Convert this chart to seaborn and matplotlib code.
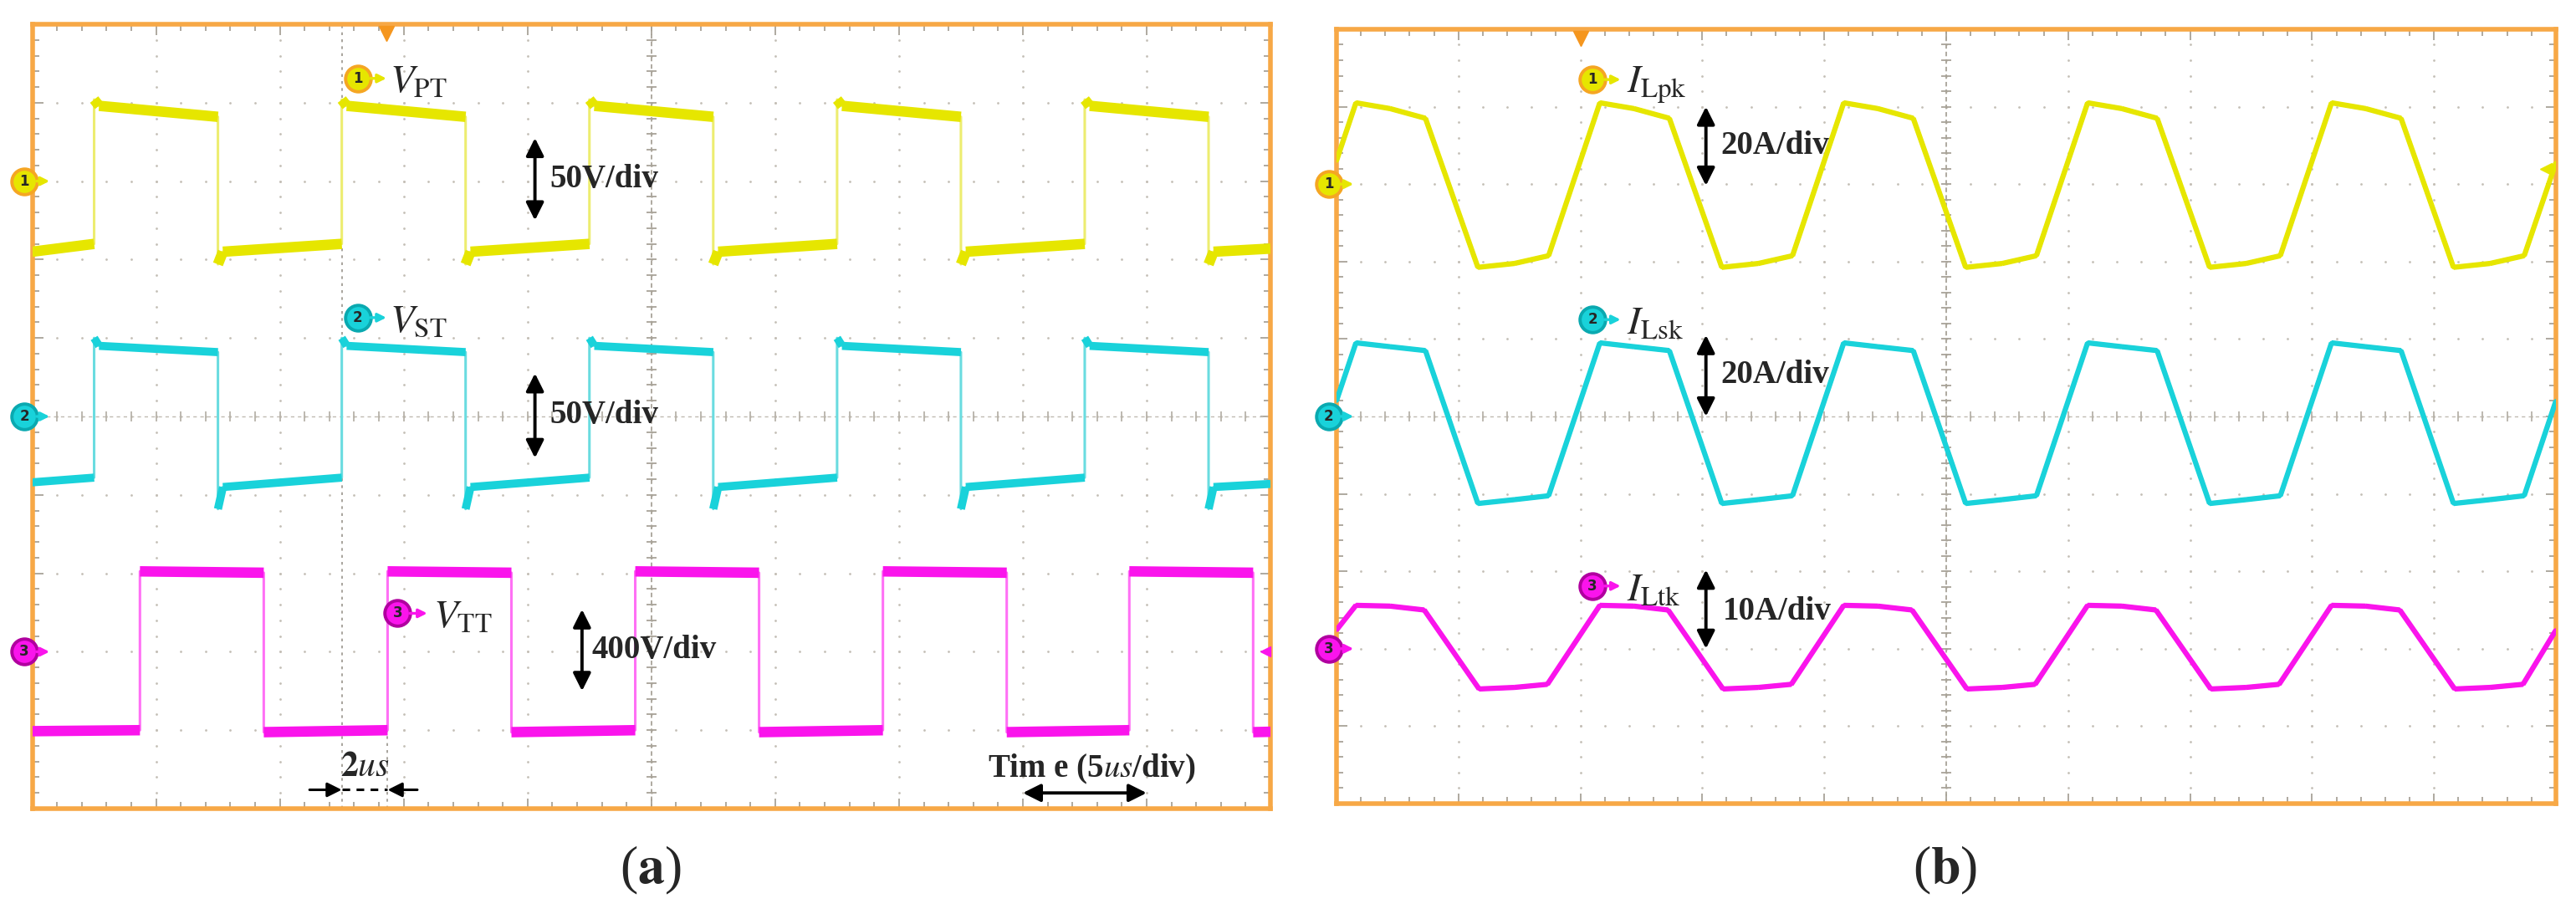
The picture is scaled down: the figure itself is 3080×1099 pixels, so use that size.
import numpy as np
import pandas as pd
import matplotlib
matplotlib.use('Agg')
import matplotlib.pyplot as plt
import seaborn as sns

# ---- waveforms read off the two scope screens (time in us) ----
# (a) transformer voltages
vpt_t = [0, 2.5, 2.5, 2.7, 7.5, 7.5, 7.7, 12.5, 12.5, 12.7, 17.5, 17.5, 17.7, 22.5, 22.5, 22.7,
         27.5, 27.5, 27.7, 32.5, 32.5, 32.7, 37.5, 37.5, 37.7, 42.5, 42.5, 42.7, 47.5, 47.5, 47.7, 50]
vpt_v = [-45, -40, 52, 48, 41, -53, -45, -40, 52, 48, 41, -53, -45, -40, 52, 48,
         41, -53, -45, -40, 52, 48, 41, -53, -45, -40, 52, 48, 41, -53, -45, -43]

vst_t = [0, 2.5, 2.5, 2.7, 7.5, 7.5, 7.7, 12.5, 12.5, 12.7, 17.5, 17.5, 17.7, 22.5, 22.5, 22.7,
         27.5, 27.5, 27.7, 32.5, 32.5, 32.7, 37.5, 37.5, 37.7, 42.5, 42.5, 42.7, 47.5, 47.5, 47.7, 50]
vst_v = [-42, -39, 50, 45, 41, -59, -45, -39, 50, 45, 41, -59, -45, -39, 50, 45,
         41, -59, -45, -39, 50, 45, 41, -59, -45, -39, 50, 45, 41, -59, -45, -43]

vtt_t = [0, 4.35, 4.35, 9.35, 9.35, 14.35, 14.35, 19.35, 19.35, 24.35, 24.35, 29.35, 29.35,
         34.35, 34.35, 39.35, 39.35, 44.3, 44.3, 49.3, 49.3, 50]
vtt_v = [-405, -400, 410, 403, -410, -400, 410, 403, -410, -400, 410, 403, -410,
         -400, 410, 403, -410, -400, 410, 403, -410, -408]

# (b) inductor currents
ilpk_t = [0, 0.8, 2.2, 3.65, 5.8, 7.3, 8.7, 10.8, 12.2, 13.65, 15.8, 17.3, 18.7, 20.8, 22.2, 23.65,
          25.8, 27.3, 28.7, 30.8, 32.2, 33.65, 35.8, 37.3, 38.7, 40.8, 42.2, 43.65, 45.8, 47.3, 48.7, 50]
ilpk_i = [6, 21, 19.5, 17, -21.5, -20.5, -18.5, 21, 19.5, 17, -21.5, -20.5, -18.5, 21, 19.5, 17,
          -21.5, -20.5, -18.5, 21, 19.5, 17, -21.5, -20.5, -18.5, 21, 19.5, 17, -21.5, -20.5, -18.5, 5.5]

ilsk_t = ilpk_t
ilsk_i = [4, 19, 18, 17, -22.5, -21.5, -20.5, 19, 18, 17, -22.5, -21.5, -20.5, 19, 18, 17,
          -22.5, -21.5, -20.5, 19, 18, 17, -22.5, -21.5, -20.5, 19, 18, 17, -22.5, -21.5, -20.5, 4]

iltk_t = [0, 0.8, 2.2, 3.6, 5.85, 7.3, 8.65, 10.8, 12.2, 13.6, 15.85, 17.3, 18.65, 20.8, 22.2, 23.6,
          25.85, 27.3, 28.65, 30.8, 32.2, 33.6, 35.85, 37.3, 38.65, 40.8, 42.2, 43.6, 45.85, 47.3, 48.65, 50]
iltk_i = [2.4, 5.6, 5.5, 5.0, -5.2, -5.0, -4.6, 5.6, 5.5, 5.0, -5.2, -5.0, -4.6, 5.6, 5.5, 5.0,
          -5.2, -5.0, -4.6, 5.6, 5.5, 5.0, -5.2, -5.0, -4.6, 5.6, 5.5, 5.0, -5.2, -5.0, -4.6, 2.4]

# scope settings: volts (amps) per division and ground position in divisions
a_scales = [50, 50, 400]
a_grounds = [8, 5, 2]
a_units = ['50V/div', '50V/div', '400V/div']
b_scales = [20, 20, 10]
b_grounds = [8, 5, 2]
b_units = ['20A/div', '20A/div', '10A/div']

YEL, YEL_L, YEL_RING = '#E6E600', '#EDED70', '#F5A623'
CYA, CYA_L, CYA_RING = '#19D2DA', '#6ADCE0', '#0AA9B0'
MAG, MAG_L, MAG_RING = '#FA14EC', '#FF70F5', '#B0009F'
ORANGE = '#F7A846'
GRID = '#c4bfb6'

sns.set_style('white')
plt.rcParams['font.family'] = ['Liberation Serif', 'DejaVu Serif']
plt.rcParams['mathtext.fontset'] = 'stix'

fig = plt.figure(figsize=(30.8, 10.99), dpi=100)
ax_a = fig.add_axes([0.0125, 0.1201, 0.4807, 0.8535])
ax_b = fig.add_axes([0.5188, 0.1256, 0.4734, 0.8426])


def screen(ax):
    ax.set_xlim(0, 50)
    ax.set_ylim(0, 10)
    # dotted graticule
    gx, gy = np.meshgrid(np.arange(5, 50, 5), np.arange(0.2, 10, 0.2))
    ax.scatter(gx.ravel(), gy.ravel(), s=4, color=GRID, lw=0, zorder=1)
    hx, hy = np.meshgrid(np.arange(1, 50, 1), np.arange(1, 10, 1))
    ax.scatter(hx.ravel(), hy.ravel(), s=4, color=GRID, lw=0, zorder=1)
    # centre cross with small ticks
    ax.axvline(25, color='#a8a398', lw=1.3, ls=(0, (3, 2)), zorder=1)
    ax.axhline(5, color='#c0bbb2', lw=1.0, ls=(0, (3, 3)), zorder=1)
    ax.plot(np.full(49, 25), np.arange(0.2, 9.9, 0.2), ls='none', marker='_', ms=9, mew=1.3,
            color='#a8a398', zorder=1)
    ax.plot(np.arange(1, 50, 1), np.full(49, 5), ls='none', marker='|', ms=9, mew=1.3,
            color='#b8b3aa', zorder=1)
    ax.set_xticks(np.arange(0, 51, 5))
    ax.set_xticks(np.arange(0, 51, 1), minor=True)
    ax.set_yticks(np.arange(0, 11, 1))
    ax.set_yticks(np.arange(0, 10.1, 0.2), minor=True)
    ax.tick_params(which='both', direction='in', top=True, right=True, bottom=True, left=True,
                   labelbottom=False, labelleft=False, color='#a8a398', width=1.3)
    ax.tick_params(which='major', length=9)
    ax.tick_params(which='minor', length=6)
    for s in ax.spines.values():
        s.set_color(ORANGE)
        s.set_linewidth(4)
    ax.set_xlabel('')
    ax.set_ylabel('')


def trace(ax, t, v, scale, ground, color, edge_color, lw_flat, lw_edge):
    df = pd.DataFrame({'t': t, 'y': ground + np.asarray(v, dtype=float) / scale})
    sns.lineplot(data=df, x='t', y='y', sort=False, estimator=None, color=edge_color,
                 lw=lw_edge, ax=ax, zorder=3)
    # thick noisy plateaus: every segment that moves forward in time
    rows = []
    for i in range(len(df) - 1):
        if df.t[i + 1] > df.t[i]:
            rows.append((i, df.t[i], df.y[i]))
            rows.append((i, df.t[i + 1], df.y[i + 1]))
    flat = pd.DataFrame(rows, columns=['seg', 't', 'y'])
    sns.lineplot(data=flat, x='t', y='y', units='seg', sort=False, estimator=None,
                 color=color, lw=lw_flat, ax=ax, zorder=4, solid_capstyle='butt')
    ax.set_xlabel('')
    ax.set_ylabel('')


def badge(ax, x, y, num, fill, ring, arrow_end, ms=22):
    ax.plot([x], [y], 'o', ms=ms, mfc=fill, mec=ring, mew=2.8, clip_on=False, zorder=8)
    ax.text(x, y, str(num), ha='center', va='center', fontsize=12, fontweight='bold',
            family='DejaVu Sans', zorder=9, clip_on=False)
    ax.annotate('', xy=(arrow_end, y), xytext=(x + 0.5, y), annotation_clip=False,
                arrowprops=dict(arrowstyle='-|>', color=fill, lw=2.4, mutation_scale=15,
                                shrinkA=0, shrinkB=0), zorder=9)


def vscale(ax, x, y_top, y_bot, label, xt, yt):
    ax.annotate('', xy=(x, y_top), xytext=(x, y_bot),
                arrowprops=dict(arrowstyle='<|-|>', color='black', lw=2.8, mutation_scale=32,
                                shrinkA=0, shrinkB=0), zorder=9)
    ax.text(xt, yt, label, ha='left', va='center', fontsize=28, fontweight='bold', zorder=9)


screen(ax_a)
screen(ax_b)

# ---- panel (a) ----
trace(ax_a, vpt_t, vpt_v, a_scales[0], a_grounds[0], YEL, YEL_L, 9, 2.2)
trace(ax_a, vst_t, vst_v, a_scales[1], a_grounds[1], CYA, CYA_L, 7, 2.2)
trace(ax_a, vtt_t, vtt_v, a_scales[2], a_grounds[2], MAG, MAG_L, 9, 2.2)

for g, fill, ring, n in zip(a_grounds, [YEL, CYA, MAG], [YEL_RING, CYA_RING, MAG_RING], [1, 2, 3]):
    badge(ax_a, -0.32, g, n, fill, ring, 0.7)
ax_a.plot([49.8], [2.0], marker='<', ms=9, color=MAG, clip_on=False, zorder=8)
ax_a.plot([14.3], [9.88], marker='v', ms=13, color='#F5961E', clip_on=False, zorder=8)

badge(ax_a, 13.15, 9.31, 1, YEL, YEL_RING, 14.3)
ax_a.text(14.45, 9.25, r'$V_{\mathrm{PT}}$', fontsize=34, va='center', ha='left', zorder=9)
badge(ax_a, 13.15, 6.26, 2, CYA, CYA_RING, 14.3)
ax_a.text(14.45, 6.2, r'$V_{\mathrm{ST}}$', fontsize=34, va='center', ha='left', zorder=9)
badge(ax_a, 14.75, 2.49, 3, MAG, MAG_RING, 15.95)
ax_a.text(16.2, 2.43, r'$V_{\mathrm{TT}}$', fontsize=34, va='center', ha='left', zorder=9)

vscale(ax_a, 20.3, 8.55, 7.5, a_units[0], 20.9, 8.02)
vscale(ax_a, 20.3, 5.55, 4.47, a_units[1], 20.9, 5.02)
vscale(ax_a, 22.2, 2.54, 1.5, a_units[2], 22.6, 2.02)

# 2us phase shift marker
ax_a.axvline(12.5, color='#9a958c', lw=1.2, ls=(0, (2, 3)), zorder=2)
ax_a.plot([14.35, 14.35], [0, 1.0], color='#9a958c', lw=1.2, ls=(0, (2, 3)), zorder=2)
ax_a.annotate('', xy=(12.5, 0.24), xytext=(11.2, 0.24),
              arrowprops=dict(arrowstyle='-|>', color='black', lw=2.2, mutation_scale=26,
                              shrinkA=0, shrinkB=0), zorder=9)
ax_a.annotate('', xy=(14.35, 0.24), xytext=(15.55, 0.24),
              arrowprops=dict(arrowstyle='-|>', color='black', lw=2.2, mutation_scale=26,
                              shrinkA=0, shrinkB=0), zorder=9)
ax_a.plot([12.5, 14.35], [0.24, 0.24], color='black', lw=2.2, ls=(0, (3, 2.5)), zorder=9)
ax_a.text(13.45, 0.52, r'$\mathbf{2}\mathit{us}$', fontsize=30, ha='center', va='center', zorder=9)

# time base marker
ax_a.annotate('', xy=(45, 0.2), xytext=(40, 0.2),
              arrowprops=dict(arrowstyle='<|-|>', color='black', lw=2.8, mutation_scale=32,
                              shrinkA=0, shrinkB=0), zorder=9)
ax_a.text(38.6, 0.5, r'Tim e (5$\mathit{us}$/div)', fontsize=28, fontweight='bold',
          ha='left', va='center', zorder=9)

# ---- panel (b) ----
trace(ax_b, ilpk_t, ilpk_i, b_scales[0], b_grounds[0], YEL, YEL, 4.5, 3.5)
trace(ax_b, ilsk_t, ilsk_i, b_scales[1], b_grounds[1], CYA, CYA, 4.5, 3.5)
trace(ax_b, iltk_t, iltk_i, b_scales[2], b_grounds[2], MAG, MAG, 4.5, 3.5)

for g, fill, ring, n in zip(b_grounds, [YEL, CYA, MAG], [YEL_RING, CYA_RING, MAG_RING], [1, 2, 3]):
    badge(ax_b, -0.32, g, n, fill, ring, 0.7)
ax_b.plot([49.6], [8.2], marker='<', ms=10, color=YEL, clip_on=False, zorder=8)
ax_b.plot([10.0], [9.88], marker='v', ms=13, color='#F5961E', clip_on=False, zorder=8)

badge(ax_b, 10.5, 9.35, 1, YEL, YEL_RING, 11.65)
ax_b.text(11.9, 9.28, r'$I_{\mathrm{Lpk}}$', fontsize=34, va='center', ha='left', zorder=9)
badge(ax_b, 10.5, 6.25, 2, CYA, CYA_RING, 11.65)
ax_b.text(11.9, 6.18, r'$I_{\mathrm{Lsk}}$', fontsize=34, va='center', ha='left', zorder=9)
badge(ax_b, 10.5, 2.81, 3, MAG, MAG_RING, 11.65)
ax_b.text(11.9, 2.74, r'$I_{\mathrm{Ltk}}$', fontsize=34, va='center', ha='left', zorder=9)

vscale(ax_b, 15.15, 9.0, 7.98, b_units[0], 15.75, 8.49)
vscale(ax_b, 15.15, 6.05, 5.0, b_units[1], 15.75, 5.53)
vscale(ax_b, 15.15, 3.02, 2.0, b_units[2], 15.85, 2.48)

fig.text(0.2526, 0.053, r'($\mathbf{a}$)', fontsize=46, ha='center', va='center')
fig.text(0.7552, 0.053, r'($\mathbf{b}$)', fontsize=46, ha='center', va='center')

fig.savefig('out.png', dpi=100, facecolor='white')
